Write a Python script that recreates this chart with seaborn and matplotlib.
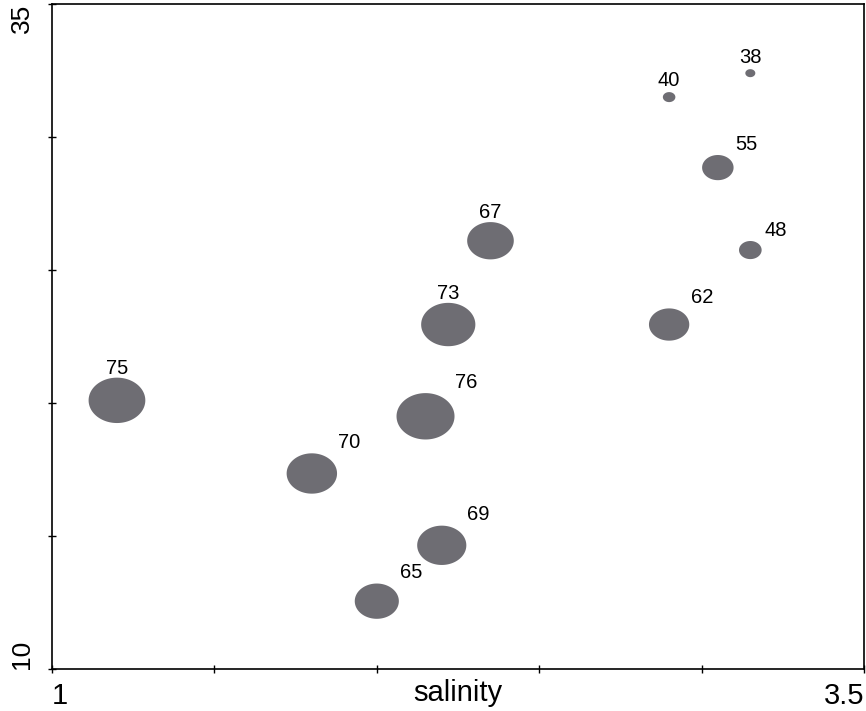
import numpy as np
import pandas as pd
import seaborn as sns
import matplotlib.pyplot as plt
from matplotlib.path import Path

# data
salinity = [1.2, 1.8, 2.0, 2.2, 2.15, 2.22, 2.35, 2.9, 3.15, 3.05, 2.9, 3.15]
yvals = [20.1, 17.35, 12.55, 14.65, 19.5, 22.95, 26.1, 22.95, 25.75, 28.85, 31.5, 32.4]
value = [75, 70, 65, 69, 76, 73, 67, 62, 48, 55, 40, 38]
label_pos = [12, 1, 1, 1, 1, 12, 12, 1, 1, 1, 12, 12]  # clock positions of labels

x_ticks = [1, 1.5, 2, 2.5, 3, 3.5]
x_ticklabels = ["1", "", "", "", "", "3.5"]
y_ticks = [10, 15, 20, 25, 30, 35]
y_ticklabels = ["10", "", "", "", "", "35"]

df = pd.DataFrame({"salinity": salinity, "y": yvals, "value": value})

sns.set_theme(style="white")
plt.rcParams["font.family"] = ["Liberation Sans", "DejaVu Sans"]

DPI = 100
fig = plt.figure(figsize=(8.66, 7.11), dpi=DPI)
ax = fig.add_axes([52 / 866, 1 - 669 / 711, (864 - 52) / 866, (669 - 4) / 711])

px2pt = 72 / DPI


def width_px(v):
    return 10 + (v - 38) * 1.263


sizes = {v: (width_px(v) * px2pt) ** 2 for v in value}

theta = np.linspace(0, 2 * np.pi, 120)
ellipse = Path(np.column_stack([np.cos(theta), 0.8 * np.sin(theta)]), closed=True)

sns.scatterplot(data=df, x="salinity", y="y", size="value", sizes=sizes,
                marker=ellipse, color="#6e6d73", linewidth=0, legend=False, ax=ax,
                zorder=3)

for xv, yv, v, pos in zip(salinity, yvals, value, label_pos):
    r = width_px(v) / 2
    if pos == 12:
        dx, dy = 0, 12 + 0.7 * r
    else:
        dx, dy = 15 + 0.89 * r, 10 + 0.83 * r
    ax.annotate(str(v), (xv, yv), xytext=(dx * px2pt, dy * px2pt),
                textcoords="offset points", ha="center", va="center",
                fontsize=14.5, color="black")

ax.set_xlim(1, 3.5)
ax.set_ylim(10, 35)
ax.set_xticks(x_ticks)
ax.set_xticklabels(x_ticklabels)
ax.set_yticks(y_ticks)
ax.set_yticklabels(y_ticklabels, rotation=90)

ax.tick_params(axis="both", direction="inout", length=6, width=1, colors="black",
               bottom=True, left=True)
ax.tick_params(axis="x", pad=6, labelsize=21)
ax.tick_params(axis="y", pad=10, labelsize=19)

xl = ax.get_xticklabels()
xl[0].set_ha("left")
xl[-1].set_ha("right")
yl = ax.get_yticklabels()
yl[0].set_va("bottom")
yl[-1].set_va("top")
for t in yl:
    t.set_ha("right")

ax.set_xlabel("salinity", fontsize=21, color="black")
ax.xaxis.set_label_coords(0.5, -0.015)
ax.xaxis.label.set_va("top")
ax.set_ylabel("")

for s in ax.spines.values():
    s.set_visible(True)
    s.set_color("black")
    s.set_linewidth(1.2)

fig.savefig("out.png", dpi=DPI)
